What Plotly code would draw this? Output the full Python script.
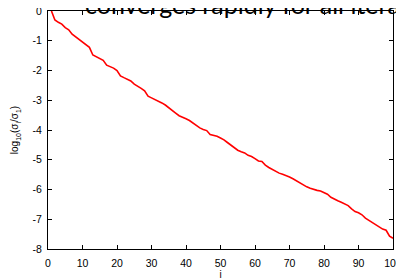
import plotly.graph_objects as go

idx = list(range(1, 101))
log_ratio = [
    0.0, -0.30, -0.38, -0.44, -0.56, -0.63, -0.78, -0.87, -0.97, -1.06,
    -1.15, -1.22, -1.48, -1.54, -1.60, -1.66, -1.82, -1.86, -1.92, -2.00,
    -2.18, -2.24, -2.29, -2.35, -2.46, -2.52, -2.60, -2.68, -2.86, -2.92,
    -2.97, -3.03, -3.09, -3.16, -3.24, -3.32, -3.43, -3.52, -3.56, -3.62,
    -3.68, -3.76, -3.86, -3.93, -3.98, -4.02, -4.15, -4.18, -4.21, -4.27,
    -4.33, -4.42, -4.51, -4.58, -4.68, -4.73, -4.77, -4.85, -4.89, -4.96,
    -5.04, -5.06, -5.18, -5.26, -5.33, -5.39, -5.45, -5.49, -5.53, -5.58,
    -5.64, -5.71, -5.79, -5.85, -5.91, -5.96, -6.00, -6.03, -6.05, -6.10,
    -6.16, -6.26, -6.33, -6.38, -6.43, -6.48, -6.54, -6.65, -6.74, -6.78,
    -6.85, -6.96, -7.04, -7.11, -7.17, -7.25, -7.33, -7.37, -7.57, -7.64,
]

x_ticks = [0, 10, 20, 30, 40, 50, 60, 70, 80, 90, 100]
y_ticks = [0, -1, -2, -3, -4, -5, -6, -7, -8]
y_tick_labels = ["0", "-1", "-2", "-3", "-4", "-5", "-6", "-7", "-8"]
title_text = "converges rapidly for all iterations"

fig = go.Figure()
fig.add_trace(go.Scatter(x=idx, y=log_ratio, mode="lines",
                         line=dict(color="#ff0000", width=1.6),
                         showlegend=False, hoverinfo="skip"))

axis_common = dict(showgrid=False, zeroline=False, showline=True,
                   linecolor="black", linewidth=1.2, mirror="allticks",
                   ticks="inside", ticklen=4, tickwidth=1, tickcolor="black",
                   automargin=False, ticklabeloverflow="allow",
                   tickfont=dict(family="Liberation Sans", size=10.5, color="black"))

fig.update_xaxes(range=[0, 100], tickvals=x_ticks, ticktext=[str(t) for t in x_ticks],
                 ticklabelstandoff=4,
                 title=dict(text="i", font=dict(family="Liberation Sans", size=10, color="black"),
                            standoff=2),
                 **axis_common)
fig.update_yaxes(range=[-8, 0], tickvals=y_ticks, ticktext=y_tick_labels,
                 ticklabelstandoff=3,
                 title=dict(text="log<sub>10</sub>(σ<sub>i</sub>/σ<sub>1</sub>)",
                            font=dict(family="Liberation Sans", size=10, color="black"),
                            standoff=11),
                 **axis_common)

fig.add_annotation(text=title_text, xref="paper", yref="paper",
                   x=35 / 345, y=0.958, xanchor="left", yanchor="bottom",
                   align="left", showarrow=False,
                   font=dict(family="Lato", size=25, color="black"))

fig.update_layout(width=404, height=280,
                  margin=dict(l=40, r=19, t=3, b=39, pad=0),
                  plot_bgcolor="white", paper_bgcolor="white")

fig.write_html("out.html")
